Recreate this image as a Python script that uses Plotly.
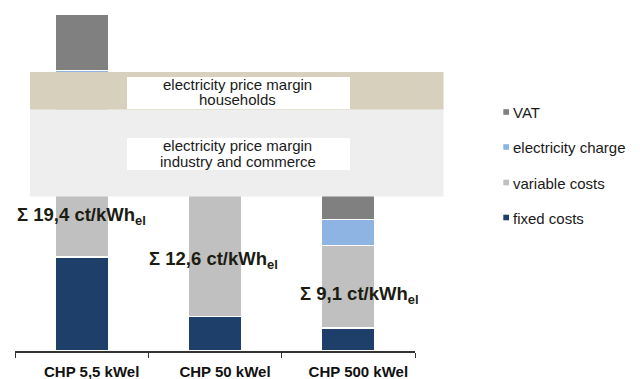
import plotly.graph_objects as go

# Generation cost components per CHP size, ct/kWh_el
categories = ["CHP 5,5 kWel", "CHP 50 kWel", "CHP 500 kWel"]
fixed_costs = [6.5, 2.4, 1.6]
variable_costs = [10.6, 8.4, 5.7]
electricity_charge = [2.3, 1.8, 1.8]
vat = [3.9, 2.4, 1.7]
sum_labels = ["19,4", "12,6", "9,1"]

# Electricity price margins (ct/kWh_el)
margin_households = [16.7, 19.3]
margin_industry = [10.7, 16.7]

series = [
    ("fixed costs", fixed_costs, "#1f3f6b"),
    ("variable costs", variable_costs, "#c0c0c0"),
    ("electricity charge", electricity_charge, "#8db4e2"),
    ("VAT", vat, "#808080"),
]

W, H = 640, 379
L, R, T, B = 15, 415, 0, 351
PX_PER_CT = 14.45


def fx(px):
    return (px - L) / (R - L)


def fy(py):
    return (B - py) / (B - T)


fig = go.Figure()
for name, vals, color in series:
    fig.add_trace(go.Bar(
        x=categories, y=vals, name=name, width=0.4,
        marker=dict(color=color, line=dict(color="white", width=1.5)),
        showlegend=False,
    ))

shapes = []
annotations = []

# Shaded price-margin bands drawn over the bars
for (lo, hi), color in [(margin_households, "#d6d0bc"), (margin_industry, "#eeeeee")]:
    shapes.append(dict(type="rect", xref="paper", yref="y", x0=fx(30), x1=fx(443.5),
                       y0=lo, y1=hi, fillcolor=color, line=dict(width=0), layer="above"))

# White caption boxes inside the bands
for top, bot, lines in [(77, 109, ["electricity price margin", "households"]),
                        (138, 170, ["electricity price margin", "industry and commerce"])]:
    shapes.append(dict(type="rect", xref="paper", yref="paper", x0=fx(127), x1=fx(350),
                       y0=fy(bot), y1=fy(top), fillcolor="white", line=dict(width=0),
                       layer="above"))
    for i, txt in enumerate(lines):
        annotations.append(dict(text=txt, xref="paper", yref="paper", x=fx(237.5),
                                y=fy(top + 7.5 + 15.5 * i), xanchor="center", yanchor="middle",
                                showarrow=False,
                                font=dict(family="Liberation Sans, Arial", size=15, color="#1a1a1a")))

# Sum labels
for lab, (x0, yc) in zip(sum_labels, [(15, 216), (147, 259.5), (298, 294.5)]):
    annotations.append(dict(text=f"<b>Σ {lab} ct/kWh<sub>el</sub></b>", xref="paper", yref="paper",
                            x=fx(x0), y=fy(yc), xanchor="left", yanchor="middle", showarrow=False,
                            font=dict(family="Liberation Sans, Arial", size=18.5, color="#1c1c12")))

# Legend: small squares with labels, top item first
for (name, vals, color), yc in zip(reversed(series), [112, 147, 182.5, 217.5]):
    shapes.append(dict(type="rect", xref="paper", yref="paper", x0=fx(503.3), x1=fx(509),
                       y0=fy(yc + 2.8), y1=fy(yc - 2.8), fillcolor=color, line=dict(width=0)))
    annotations.append(dict(text=name, xref="paper", yref="paper", x=fx(510.5), y=fy(yc + 0.8),
                            xanchor="left", yanchor="middle", showarrow=False,
                            font=dict(family="Liberation Sans, Arial", size=15, color="#1a1a1a")))

fig.update_layout(
    width=W, height=H,
    margin=dict(l=L, r=W - R, t=T, b=H - B, pad=0),
    barmode="stack", bargap=0.6,
    plot_bgcolor="white", paper_bgcolor="white",
    shapes=shapes, annotations=annotations,
    xaxis=dict(showline=True, linecolor="#333333", linewidth=1.5, ticks="outside",
               ticklen=5, tickcolor="#333333", tickwidth=1.2, tickson="boundaries",
               showgrid=False, ticklabelshift=10, ticklabelstandoff=6,
               tickfont=dict(family="Liberation Sans, Arial", size=15, color="#111111"),
               tickprefix="<b>", ticksuffix="</b>"),
    yaxis=dict(range=[0, (B - T) / PX_PER_CT], visible=False, showgrid=False),
)

fig.write_html("out.html")
